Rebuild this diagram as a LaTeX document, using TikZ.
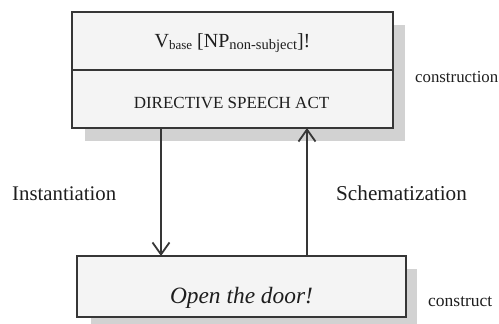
\documentclass[tikz,border=0pt]{standalone}
\usepackage{fontspec}
\setmainfont{Liberation Serif}
\usetikzlibrary{arrows.meta,backgrounds,calc}
\definecolor{boxfill}{HTML}{F4F4F4}
\definecolor{boxline}{HTML}{363636}
\definecolor{shadowgray}{HTML}{D2D2D2}
\definecolor{ink}{HTML}{1E1E1E}
\newcommand{\lowsub}[2][14]{\raisebox{-0.32ex}{\fontsize{#1}{#1}\selectfont #2}}
\begin{document}
\begin{tikzpicture}[x=1pt,y=-1pt,
  box/.style={draw=boxline, fill=boxfill, line width=1.8pt, inner sep=0pt, outer sep=0pt},
  txt/.style={text=ink, inner sep=0pt, anchor=base},
  sidelabel/.style={text=ink, inner sep=0pt, anchor=base west},
  arr/.style={draw=boxline, line width=1.8pt,
    -{Straight Barb[length=12pt,width=17pt,line width=1.8pt]}}]
  \useasboundingbox (0,0) rectangle (499,324);

  % construction: form row and meaning row
  \node[box, minimum width=321pt, minimum height=58pt] (form) at (232.5,41) {};
  \node[box, minimum width=321pt, minimum height=58pt] (meaning) at (232.5,99) {};
  % construct
  \node[box, minimum width=329pt, minimum height=61pt] (door) at (241.5,286.5) {};

  % drop shadows
  \begin{scope}[on background layer]
    \fill[shadowgray] ($(form.north west)+(13,13)$) rectangle ($(meaning.south east)+(12,13)$);
    \fill[shadowgray] ($(door.north west)+(14,13)$) rectangle ($(door.south east)+(11,13)$);
  \end{scope}

  % texts inside the boxes
  \node[txt, font=\fontsize{20}{20}\selectfont] (formtxt) at (232.5,47)
    {V\lowsub[13]{base} [NP\lowsub[14.5]{non-subject}]!};
  \node[txt, font=\fontsize{17}{17}\selectfont] (meaningtxt) at (231.5,108)
    {DIRECTIVE SPEECH ACT};
  \node[txt, font=\fontsize{23.4}{23.4}\selectfont\itshape] (doortxt) at (241.5,303)
    {Open the door!};

  % side labels
  \node[sidelabel, font=\fontsize{16.8}{16.8}\selectfont] (lbcxn) at (415,82) {construction};
  \node[sidelabel, font=\fontsize{17.5}{17.5}\selectfont] (lbcx) at (428,306) {construct};
  \node[sidelabel, font=\fontsize{20.8}{20.8}\selectfont] (lbinst) at (12,200) {Instantiation};
  \node[sidelabel, font=\fontsize{21.2}{21.2}\selectfont] (lbschem) at (336,200) {Schematization};

  % instantiation and schematization links
  \coordinate (downx) at (161,0);
  \coordinate (upx) at (307,0);
  \draw[arr] (meaning.south -| downx) -- (door.north -| downx);
  \draw[arr] (door.north -| upx) -- (meaning.south -| upx);
\end{tikzpicture}
\end{document}
